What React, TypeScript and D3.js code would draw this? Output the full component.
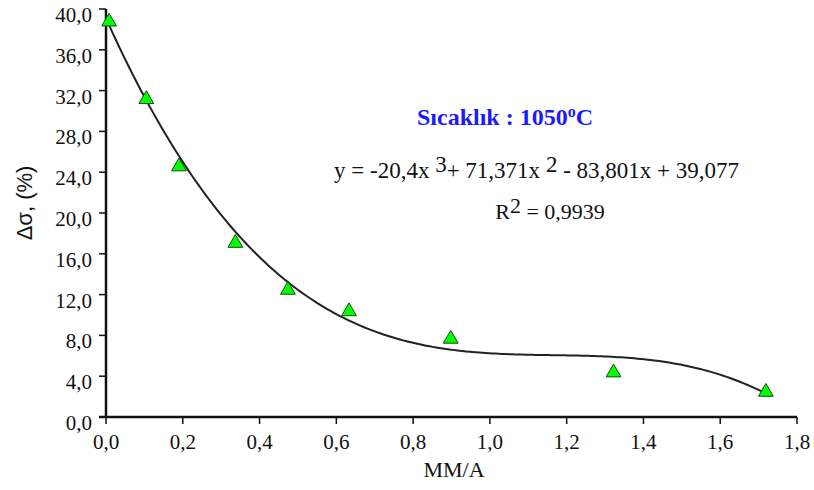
import React from "react";
import * as d3 from "d3";

const xValues = [0.008, 0.105, 0.19, 0.337, 0.474, 0.633, 0.898, 1.322, 1.719];
const yValues = [38.9, 31.3, 24.7, 17.2, 12.6, 10.5, 7.8, 4.5, 2.6];
const xTicks = [0, 0.2, 0.4, 0.6, 0.8, 1.0, 1.2, 1.4, 1.6, 1.8];
const yTicks = [0, 4, 8, 12, 16, 20, 24, 28, 32, 36, 40];
const trendCoefs = [39.077, -83.801, 71.371, -20.4];
const trendRange = [0, 1.72];

const W = 814;
const H = 490;
const M = { left: 106, right: 17, top: 9, bottom: 73 };
const SERIF = "Liberation Serif";
const SANS = "Liberation Sans";

export default function App() {
  const x = d3.scaleLinear().domain([0, 1.8]).range([M.left, W - M.right]);
  const y = d3.scaleLinear().domain([0, 40]).range([H - M.bottom, M.top]);
  const fmt = (v: number) => v.toFixed(1).replace(".", ",");
  const poly = (t: number) => trendCoefs.reduce((s, c, i) => s + c * Math.pow(t, i), 0);
  const steps = d3.range(0, 201).map((i) => trendRange[0] + (i / 200) * (trendRange[1] - trendRange[0]));
  const trendPath = d3.line<number>().x((t) => x(t)).y((t) => y(poly(t)))(steps) as string;
  const tri = d3.symbol().type(d3.symbolTriangle).size(95)() as string;
  const x0 = x(0);
  const y0 = y(0);
  const tickStyle = { fontFamily: SERIF, fontSize: "21px" };

  return (
    <svg width={W} height={H} style={{ position: "absolute", left: 0, top: 0, background: "#fff" }}>
      <path d={trendPath} fill="none" stroke="#222" strokeWidth={2} />

      {/* y axis */}
      <line x1={x0} x2={x0} y1={y(40)} y2={y0} stroke="#111" strokeWidth={2.5} />
      {yTicks.map((t) => (
        <g key={"y" + t}>
          <line x1={x0 - 7} x2={x0} y1={y(t)} y2={y(t)} stroke="#111" strokeWidth={1.5} />
          <text x={x0 - 14} y={y(t) + 13} textAnchor="end" fill="#111" style={tickStyle}>
            {fmt(t)}
          </text>
        </g>
      ))}

      {/* x axis */}
      <line x1={x0 - 7} x2={x(1.8)} y1={y0} y2={y0} stroke="#111" strokeWidth={2.5} />
      {xTicks.map((t) => (
        <g key={"x" + t}>
          <line x1={x(t)} x2={x(t)} y1={y0} y2={y0 + 7} stroke="#111" strokeWidth={1.5} />
          <text x={x(t)} y={y0 + 32} textAnchor="middle" fill="#111" style={tickStyle}>
            {fmt(t)}
          </text>
        </g>
      ))}

      {/* markers */}
      {xValues.map((v, i) => (
        <path
          key={"m" + i}
          d={tri}
          transform={`translate(${x(v)},${y(yValues[i]) + 1.5})`}
          fill="#00ff00"
          stroke="#1a4a1a"
          strokeWidth={1}
        />
      ))}

      {/* axis titles */}
      <text x={454} y={477} textAnchor="middle" fill="#111" style={{ fontFamily: SERIF, fontSize: "22px" }}>
        MM/A
      </text>
      <text transform="translate(32,203) rotate(-90)" textAnchor="middle" fill="#111" style={{ fontFamily: SANS, fontSize: "22px" }}>
        Δσ, (%)
      </text>

      {/* annotations */}
      <text x={505} y={125} textAnchor="middle" fill="#1a1aff" style={{ fontFamily: SERIF, fontSize: "24px", fontWeight: "bold" }}>
        <tspan>Sıcaklık : 1050</tspan>
        <tspan dy={-8} style={{ fontSize: "16px" }}>o</tspan>
        <tspan dy={8}>C</tspan>
      </text>
      <text x={334} y={178} fill="#111" style={{ fontFamily: SERIF, fontSize: "23px" }}>
        <tspan>y = -20,4x </tspan>
        <tspan dy={-6}>3</tspan>
        <tspan dy={6}>+ 71,371x </tspan>
        <tspan dy={-6}>2</tspan>
        <tspan dy={6}> - 83,801x + 39,077</tspan>
      </text>
      <text x={550} y={219} textAnchor="middle" fill="#111" style={{ fontFamily: SERIF, fontSize: "22px" }}>
        <tspan>R</tspan>
        <tspan dy={-6}>2</tspan>
        <tspan dy={6}> = 0,9939</tspan>
      </text>
    </svg>
  );
}
